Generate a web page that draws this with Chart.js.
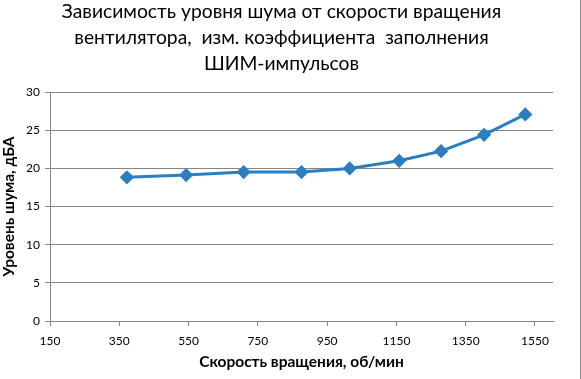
<!DOCTYPE html>
<html>
<head>
<meta charset="utf-8">
<script src="https://cdn.jsdelivr.net/npm/chart.js@4/dist/chart.umd.min.js"></script>
<style>
html,body{margin:0;padding:0;background:#fff;}
#wrap{width:581px;height:379px;position:relative;}
</style>
</head>
<body>
<div id="wrap"><canvas id="c" width="581" height="379"></canvas></div>
<script>
// Data
const speedRpm = [372, 543, 709, 876, 1015, 1158, 1279, 1403, 1522];
const noiseDbA = [18.83, 19.13, 19.52, 19.52, 20.0, 21.0, 22.27, 24.41, 27.08];
const xTickValues = [150, 350, 550, 750, 950, 1150, 1350, 1550];
const yTickValues = [0, 5, 10, 15, 20, 25, 30];
const titleLines = ["Зависимость уровня шума от скорости вращения", "вентилятора,  изм. коэффициента  заполнения", "ШИМ-импульсов"];
const xTitle = "Скорость вращения, об/мин";
const yTitle = "Уровень шума, дБА";

const points = speedRpm.map((x, i) => ({x: x, y: noiseDbA[i]}));
const FONT = "Lato, 'Open Sans', sans-serif";
const AXIS = "#868686";
const BLUE = "#2a7fc2";

const borderPlugin = {
  id: 'rightBorder',
  afterDraw(chart) {
    const ctx = chart.ctx;
    ctx.save();
    ctx.strokeStyle = "#8c8c8c";
    ctx.lineWidth = 1;
    ctx.beginPath();
    ctx.moveTo(580.5, 0);
    ctx.lineTo(580.5, 379);
    ctx.stroke();
    ctx.restore();
  }
};

new Chart(document.getElementById('c'), {
  type: 'scatter',
  data: {
    datasets: [{
      data: points,
      showLine: true,
      borderColor: BLUE,
      backgroundColor: BLUE,
      borderWidth: 3,
      pointStyle: 'rectRot',
      pointRadius: 5,
      pointHoverRadius: 5,
      tension: 0
    }]
  },
  options: {
    responsive: false,
    animation: false,
    layout: {padding: {left: 10, right: 28, top: 0, bottom: 0}},
    plugins: {
      legend: {display: false},
      tooltip: {enabled: false},
      title: {
        display: true,
        text: titleLines,
        color: "#000",
        font: {family: FONT, size: 19.3, weight: 'normal', lineHeight: 1.35},
        padding: {top: -1, bottom: 15}
      }
    },
    scales: {
      x: {
        type: 'linear',
        min: 150,
        max: 1602,
        afterBuildTicks(scale) { scale.ticks = xTickValues.map(v => ({value: v})); },
        afterFit(scale) { scale.height = 58; },
        grid: {drawOnChartArea: false, color: AXIS, tickLength: 5},
        border: {color: AXIS},
        ticks: {color: "#000", font: {family: FONT, size: 12}, padding: 8, maxRotation: 0, autoSkip: false,
                callback: v => String(v)},
        title: {display: true, text: xTitle, color: "#000", font: {family: FONT, size: 15.5, weight: 'bold'}, padding: {top: 6, bottom: 8}}
      },
      y: {
        min: 0,
        max: 30,
        afterBuildTicks(scale) { scale.ticks = yTickValues.map(v => ({value: v})); },
        afterFit(scale) { scale.width = 40; },
        grid: {color: AXIS, tickLength: 5},
        border: {color: AXIS},
        ticks: {color: "#000", font: {family: FONT, size: 12}, padding: 5, callback: v => String(v)},
        title: {display: true, text: yTitle, color: "#000", font: {family: FONT, size: 15.5, weight: 'bold'}, padding: {top: -10, bottom: 2}}
      }
    }
  },
  plugins: [borderPlugin]
});
</script>
</body>
</html>
